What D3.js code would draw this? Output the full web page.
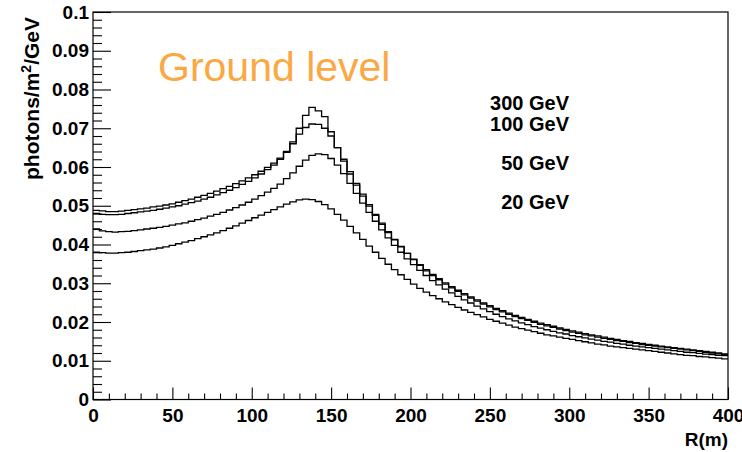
<!DOCTYPE html>
<html><head><meta charset="utf-8">
<script src="https://cdn.jsdelivr.net/npm/d3@7"></script>
<style>
html,body{margin:0;padding:0;background:#fff;}
text{font-family:"Liberation Sans",Arial,sans-serif;}
</style></head>
<body>
<svg id="chart" width="742" height="452"></svg>
<script>
// ---- data ----
const binWidth = 4; // R(m) bins from 0 to 400
const series300 = [0.0488,0.0487,0.0485,0.0485,0.0486,0.0488,0.0490,0.0492,0.0494,0.0497,
0.0499,0.0502,0.0505,0.0509,0.0513,0.0517,0.0522,0.0527,0.0532,0.0538,
0.0544,0.0550,0.0557,0.0564,0.0572,0.0580,0.0589,0.0599,0.0610,0.0623,
0.0640,0.0665,0.0700,0.0733,0.0754,0.0745,0.0730,0.0691,0.0650,0.0615,
0.0582,0.0553,0.0525,0.0499,0.0475,0.0452,0.0431,0.0412,0.0394,0.0377,
0.0362,0.0348,0.0335,0.0323,0.0312,0.0301,0.0291,0.0282,0.0273,0.0265,
0.0257,0.0249,0.0242,0.0235,0.0229,0.0223,0.0217,0.0212,0.0207,0.0202,
0.0197,0.0193,0.0189,0.0185,0.0181,0.0177,0.0174,0.0170,0.0167,0.0164,
0.0161,0.0158,0.0155,0.0152,0.0150,0.0147,0.0145,0.0142,0.0140,0.0138,
0.0136,0.0134,0.0132,0.0130,0.0128,0.0126,0.0124,0.0122,0.0120,0.0118];
const series100 = [0.0480,0.0478,0.0477,0.0477,0.0478,0.0480,0.0482,0.0484,0.0486,0.0488,
0.0491,0.0494,0.0497,0.0500,0.0504,0.0508,0.0512,0.0517,0.0522,0.0528,
0.0534,0.0540,0.0547,0.0555,0.0563,0.0572,0.0582,0.0593,0.0605,0.0620,
0.0638,0.0660,0.0685,0.0702,0.0711,0.0710,0.0700,0.0680,0.0650,0.0620,
0.0588,0.0558,0.0530,0.0503,0.0478,0.0455,0.0433,0.0413,0.0395,0.0377,
0.0361,0.0346,0.0332,0.0320,0.0309,0.0298,0.0288,0.0279,0.0270,0.0262,
0.0254,0.0246,0.0239,0.0232,0.0226,0.0220,0.0214,0.0209,0.0204,0.0199,
0.0194,0.0190,0.0186,0.0182,0.0178,0.0174,0.0171,0.0167,0.0164,0.0161,
0.0158,0.0155,0.0152,0.0150,0.0147,0.0145,0.0142,0.0140,0.0138,0.0136,
0.0134,0.0132,0.0130,0.0128,0.0126,0.0124,0.0122,0.0120,0.0118,0.0116];
const series50 = [0.0440,0.0435,0.0433,0.0432,0.0433,0.0434,0.0436,0.0438,0.0440,0.0442,
0.0444,0.0447,0.0450,0.0453,0.0456,0.0460,0.0464,0.0468,0.0473,0.0478,
0.0483,0.0489,0.0495,0.0502,0.0509,0.0517,0.0526,0.0535,0.0545,0.0556,
0.0570,0.0585,0.0602,0.0618,0.0630,0.0634,0.0632,0.0622,0.0605,0.0583,
0.0558,0.0532,0.0507,0.0483,0.0460,0.0438,0.0417,0.0398,0.0380,0.0363,
0.0348,0.0333,0.0320,0.0307,0.0296,0.0285,0.0275,0.0266,0.0257,0.0249,
0.0241,0.0234,0.0227,0.0220,0.0214,0.0208,0.0203,0.0198,0.0193,0.0188,
0.0184,0.0180,0.0176,0.0172,0.0169,0.0165,0.0162,0.0159,0.0156,0.0153,
0.0150,0.0148,0.0145,0.0143,0.0140,0.0138,0.0136,0.0134,0.0132,0.0130,
0.0128,0.0126,0.0124,0.0122,0.0121,0.0119,0.0117,0.0116,0.0114,0.0113];
const series20 = [0.0380,0.0379,0.0378,0.0378,0.0379,0.0380,0.0382,0.0384,0.0386,0.0388,
0.0391,0.0394,0.0398,0.0402,0.0406,0.0410,0.0415,0.0420,0.0425,0.0430,
0.0436,0.0442,0.0448,0.0455,0.0462,0.0469,0.0476,0.0483,0.0490,0.0497,
0.0504,0.0510,0.0515,0.0517,0.0516,0.0511,0.0503,0.0492,0.0478,0.0463,
0.0447,0.0430,0.0413,0.0396,0.0380,0.0364,0.0349,0.0335,0.0322,0.0310,
0.0298,0.0287,0.0277,0.0268,0.0260,0.0252,0.0245,0.0238,0.0231,0.0225,
0.0219,0.0213,0.0207,0.0202,0.0197,0.0192,0.0187,0.0183,0.0179,0.0175,
0.0171,0.0167,0.0164,0.0161,0.0158,0.0155,0.0152,0.0149,0.0146,0.0143,
0.0141,0.0138,0.0136,0.0134,0.0132,0.0130,0.0128,0.0126,0.0124,0.0122,
0.0120,0.0118,0.0116,0.0114,0.0113,0.0111,0.0110,0.0108,0.0107,0.0105];
const seriesNames = ["300 GeV","100 GeV","50 GeV","20 GeV"];
const xTicks = [0,50,100,150,200,250,300,350,400];
const xTickLabels = ["0","50","100","150","200","250","300","350","400"];
const yTicks = [0,0.01,0.02,0.03,0.04,0.05,0.06,0.07,0.08,0.09,0.1];
const yTickLabels = ["0","0.01","0.02","0.03","0.04","0.05","0.06","0.07","0.08","0.09","0.1"];

// ---- drawing ----
const svg = d3.select("#chart");
const L=93, R=728, T=12, B=399.5;
const x = d3.scaleLinear().domain([0,400]).range([L,R]);
const y = d3.scaleLinear().domain([0,0.1]).range([B,T]);

const xMinor = d3.range(0,401,10).filter(v=>v%50!==0);
const yMinor = d3.range(0,0.1001,0.002).filter(v=>Math.abs(v*100-Math.round(v*100))>1e-6);

// minor ticks
svg.append("g").attr("transform",`translate(${L},0)`)
  .call(d3.axisLeft(y).tickValues(yMinor).tickSize(-9).tickSizeOuter(0).tickFormat(""))
  .call(g=>g.select(".domain").remove());
svg.append("g").attr("transform",`translate(0,${B})`)
  .call(d3.axisBottom(x).tickValues(xMinor).tickSize(-6).tickSizeOuter(0).tickFormat(""))
  .call(g=>g.select(".domain").remove());
// major ticks
svg.append("g").attr("transform",`translate(${L},0)`)
  .call(d3.axisLeft(y).tickValues(yTicks).tickSize(-18).tickSizeOuter(0).tickPadding(4)
     .tickFormat((d,i)=>yTickLabels[i]))
  .call(g=>g.select(".domain").remove());
svg.append("g").attr("transform",`translate(0,${B})`)
  .call(d3.axisBottom(x).tickValues(xTicks).tickSize(-12).tickSizeOuter(0).tickPadding(9)
     .tickFormat((d,i)=>xTickLabels[i]))
  .call(g=>g.select(".domain").remove());
svg.selectAll(".tick line").attr("stroke","#000").attr("stroke-width",1.1);
svg.selectAll(".tick text").attr("font-family","'Liberation Sans',Arial,sans-serif")
  .attr("font-weight","bold").attr("font-size",19).attr("fill","#000");

// frame
svg.append("rect").attr("x",L).attr("y",T).attr("width",R-L).attr("height",B-T)
  .attr("fill","none").attr("stroke","#000").attr("stroke-width",1.2);

// histograms
const allSeries = [series300,series100,series50,series20];
const line = d3.line().x(d=>x(d[0])).y(d=>y(d[1])).curve(d3.curveStepAfter);
allSeries.forEach(s=>{
  const pts = s.map((v,i)=>[i*binWidth,v]);
  pts.push([s.length*binWidth, s[s.length-1]]);
  svg.append("path").datum(pts).attr("d",line)
    .attr("fill","none").attr("stroke","#000").attr("stroke-width",1.3);
});

// legend labels
const legendY = [110,131,170,209];
seriesNames.forEach((n,i)=>{
  svg.append("text").attr("x",569).attr("y",legendY[i]).attr("text-anchor","end")
    .attr("font-weight","bold").attr("font-size",20).attr("fill","#000").text(n);
});

// title text
svg.append("text").attr("x",158).attr("y",81).attr("font-size",41)
  .attr("fill","#FBA843").text("Ground level");

// axis titles
svg.append("text").attr("x",R).attr("y",446).attr("text-anchor","end")
  .attr("font-weight","bold").attr("font-size",19).text("R(m)");
const yt = svg.append("text").attr("transform","translate(39,17) rotate(-90)")
  .attr("text-anchor","end").attr("font-weight","bold").attr("font-size",21);
yt.append("tspan").text("photons/m");
yt.append("tspan").attr("font-size",14).attr("dy",-8).text("2");
yt.append("tspan").attr("dy",8).text("/GeV");
</script>
</body></html>
